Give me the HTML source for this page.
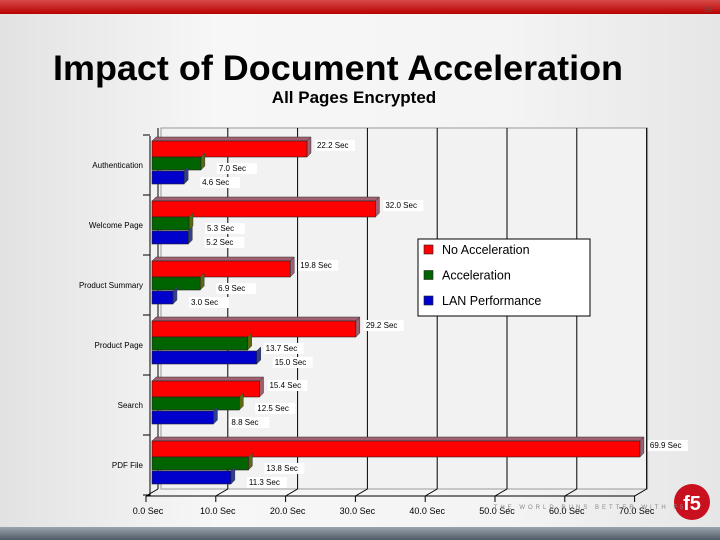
<!DOCTYPE html>
<html><head><meta charset="utf-8"><style>
html,body{margin:0;padding:0;width:720px;height:540px;overflow:hidden;font-family:"Liberation Sans",sans-serif}
</style></head><body>
<svg id="s" width="720" height="540" viewBox="0 0 720 540" xmlns="http://www.w3.org/2000/svg">
<defs>
<linearGradient id="bg" x1="0" x2="1" y1="0" y2="0"><stop offset="0" stop-color="#e2e2e2"/><stop offset="0.3" stop-color="#f7f7f7"/><stop offset="0.7" stop-color="#f4f4f4"/><stop offset="1" stop-color="#e6e6e6"/></linearGradient>
<linearGradient id="top" x1="0" x2="0" y1="0" y2="1"><stop offset="0" stop-color="#d84a4a"/><stop offset="1" stop-color="#b80000"/></linearGradient>
<linearGradient id="bot" x1="0" x2="0" y1="0" y2="1"><stop offset="0" stop-color="#9aa4ae"/><stop offset="1" stop-color="#4e5a66"/></linearGradient>
</defs>
<rect width="720" height="540" fill="url(#bg)"/>
<rect width="720" height="14" fill="url(#top)"/>
<text x="712" y="12" font-size="7" text-anchor="end" fill="#555">39</text>
<rect y="527" width="720" height="13" fill="url(#bot)"/>
<text x="338" y="80" font-size="35" font-weight="bold" text-anchor="middle" textLength="570" lengthAdjust="spacingAndGlyphs">Impact of Document Acceleration</text>
<text x="354" y="103" font-size="17" font-weight="bold" text-anchor="middle">All Pages Encrypted</text>
<g id="plot"></g>
<g><circle cx="692" cy="502" r="18" fill="#c8101e"/><text x="692" y="510" font-size="20" font-weight="bold" fill="#fff" text-anchor="middle">f5</text></g>
<text x="590" y="509" font-size="6" fill="#888" text-anchor="middle" letter-spacing="3">THE WORLD RUNS BETTER WITH F5</text>
</svg>
<script>
const categories=["Authentication","Welcome Page","Product Summary","Product Page","Search","PDF File"];
const noAccel=[22.2,32.0,19.8,29.2,15.4,69.9];
const accel=[7.0,5.3,6.9,13.7,12.5,13.8];
const lan=[4.6,5.2,3.0,15.0,8.8,11.3];
const ticks=[0,10,20,30,40,50,60,70];
const seriesNames=["No Acceleration","Acceleration","LAN Performance"];
const NS="http://www.w3.org/2000/svg";
const g=document.getElementById('plot');
function mk(t,a,p){const e=document.createElementNS(NS,t);for(const k in a)e.setAttribute(k,a[k]);(p||g).appendChild(e);return e;}
const X0=152,SC=6.98,DX=9,DY=7,TOP=128,BASE=496;
const x=v=>X0+v*SC;
const yG=i=>141+i*60;
// back wall
let w=mk('rect',{x:x(0)+DX,y:TOP,width:x(70)-x(0)-2,height:BASE-DY-TOP,fill:'#f2f2f2',stroke:'#999','stroke-width':1});

ticks.forEach(t=>{
 let l=mk('line',{x1:x(t)+DX-3,y1:TOP,x2:x(t)+DX-3,y2:BASE-DY,stroke:'#000','stroke-width':1});
 
 let d=mk('line',{x1:x(t)-6,y1:BASE,x2:x(t)+DX-3,y2:BASE-DY,stroke:'#000','stroke-width':1});
 
 let tk=mk('line',{x1:x(t)-6,y1:BASE,x2:x(t)-6,y2:BASE+6,stroke:'#000'});
 
 let tx=mk('text',{x:x(t)-4,y:BASE+18,'font-size':9,'text-anchor':'middle'});tx.textContent=t.toFixed(1)+' Sec';
 
});
let ax=mk('line',{x1:x(0)-6,y1:BASE,x2:x(70)-6,y2:BASE,stroke:'#000'});

let ay=mk('line',{x1:150,y1:TOP+8,x2:150,y2:BASE,stroke:'#000'});

for(let i=0;i<=6;i++){let t=mk('line',{x1:143,y1:135+i*60,x2:150,y2:135+i*60,stroke:'#000'});
 }
const cols=[['#ff0000','#a06070'],['#006400','#5a6a10'],['#0000cc','#304090']];
const series=[noAccel,accel,lan];
categories.forEach((c,i)=>{
 let lb=mk('text',{x:143,y:yG(i)+27,'font-size':8,'text-anchor':'end'});lb.textContent=c;
 
 series.forEach((s,j)=>{
  const y0=yG(i)+j*14+(j?2:0),h=j?13:16,xe=x(s[i]);
  let side=mk('polygon',{points:`${xe},${y0} ${xe+4},${y0-4} ${xe+4},${y0+h-4} ${xe},${y0+h}`,fill:cols[j][1],stroke:'#333','stroke-width':0.5});
  
  if(j===0){let tp=mk('polygon',{points:`${X0},${y0} ${X0+4},${y0-4} ${xe+4},${y0-4} ${xe},${y0}`,fill:cols[j][1],stroke:'#333','stroke-width':0.5});
   }
  let r=mk('rect',{x:X0,y:y0,width:xe-X0,height:h,fill:cols[j][0],stroke:'#222','stroke-width':0.6});
  
  const lx=j?xe+18:xe+10,ly=j?y0+h+1:y0+7;
  let bgr=mk('rect',{x:lx-2,y:ly-8,width:40,height:11,fill:'#fff'});
  
  let v=mk('text',{x:lx,y:ly,'font-size':8});v.textContent=s[i].toFixed(1)+' Sec';
  
 });
});
// legend
let lg=mk('g',{});
mk('rect',{x:418,y:239,width:172,height:77,fill:'#fff',stroke:'#000'},lg);
seriesNames.forEach((n,j)=>{
 let e=mk('g',{},lg);
 const yy=254+j*25.5;
 mk('rect',{x:424,y:yy-9,width:9,height:9,fill:cols[j][0],stroke:'#222','stroke-width':0.6},e);
 let t=mk('text',{x:442,y:yy,'font-size':12.5},e);t.textContent=n;
});
</script>
</body></html>
